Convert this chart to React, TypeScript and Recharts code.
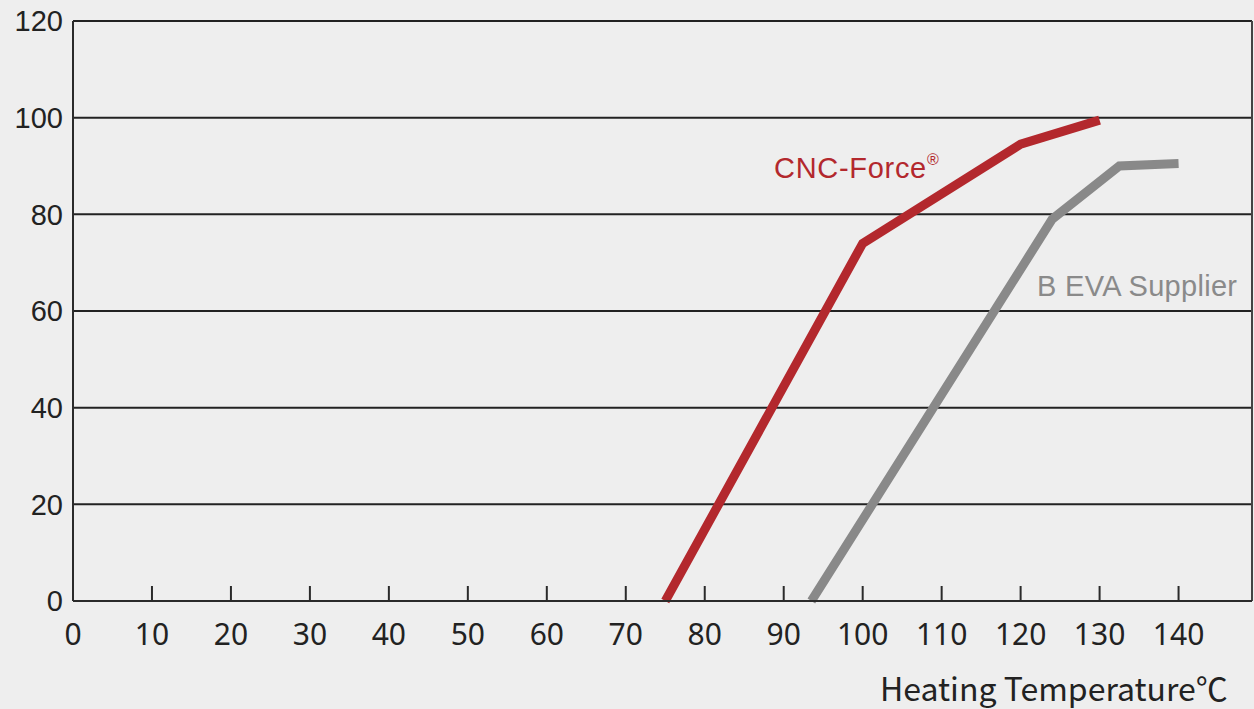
import React from "react";
import { LineChart, Line, XAxis, YAxis, CartesianGrid, ReferenceLine } from "recharts";

const xTicks = [0, 10, 20, 30, 40, 50, 60, 70, 80, 90, 100, 110, 120, 130, 140];
const yTicks = [0, 20, 40, 60, 80, 100, 120];
const cncForce = [
  { x: 75, y: 0 },
  { x: 100, y: 74 },
  { x: 120, y: 94.5 },
  { x: 130, y: 99.5 },
];
const bEva = [
  { x: 93.5, y: 0 },
  { x: 124, y: 79 },
  { x: 132.5, y: 90 },
  { x: 140, y: 90.5 },
];
const X_MAX = 149.3;
const W = 1254;
const H = 709;

const XTick = (props: any) => {
  const { x, y, payload } = props;
  return (
    <g>
      <line x1={x} y1={y} x2={x} y2={y - 15} stroke="#2a2a2a" strokeWidth={2} />
      <text
        x={x}
        y={y + 44}
        textAnchor="middle"
        fontFamily="'Noto Sans', sans-serif"
        fontSize={30}
        fill="#222"
      >
        {payload.value}
      </text>
    </g>
  );
};

export default function App() {
  return (
    <div style={{ position: "relative", width: W, height: H, background: "#eeeeee" }}>
      <style>{`body{margin:0;}`}</style>
      <LineChart width={W} height={H} margin={{ top: 21, right: 2, left: 0, bottom: 0 }}>
        <CartesianGrid vertical={false} stroke="#222" strokeWidth={2} />
        <XAxis
          dataKey="x"
          type="number"
          domain={[0, X_MAX]}
          ticks={xTicks}
          interval={0}
          height={108}
          tickSize={0}
          tickMargin={0}
          tickLine={false}
          axisLine={{ stroke: "#2a2a2a", strokeWidth: 2 }}
          tick={<XTick />}
          allowDataOverflow
        />
        <YAxis
          type="number"
          domain={[0, 120]}
          ticks={yTicks}
          interval={0}
          width={73}
          tickSize={0}
          tickMargin={10}
          tickLine={false}
          axisLine={{ stroke: "#2a2a2a", strokeWidth: 2 }}
          tick={{ fontFamily: "'Liberation Sans', Arial, sans-serif", fontSize: 29, fill: "#222" }}
        />
        <ReferenceLine x={X_MAX} stroke="#444" strokeWidth={2} ifOverflow="visible" />
        <Line
          data={cncForce}
          dataKey="y"
          type="linear"
          stroke="#b3282d"
          strokeWidth={9}
          dot={false}
          activeDot={false}
          isAnimationActive={false}
        />
        <Line
          data={bEva}
          dataKey="y"
          type="linear"
          stroke="#898989"
          strokeWidth={9}
          dot={false}
          activeDot={false}
          isAnimationActive={false}
        />
      </LineChart>
      <svg
        width={W}
        height={H}
        style={{ position: "absolute", left: 0, top: 0, pointerEvents: "none" }}
      >
        <text
          x={774}
          y={178}
          fontFamily="'Liberation Sans', Arial, sans-serif"
          fontSize={29}
          letterSpacing={0.7}
          fill="#b3282d"
        >
          CNC-Force
          <tspan fontSize={16} dy={-13}>®</tspan>
        </text>
        <text
          x={1037}
          y={296}
          fontFamily="'Liberation Sans', Arial, sans-serif"
          fontSize={29}
          letterSpacing={0.3}
          fill="#8a8a8a"
        >
          B EVA Supplier
        </text>
        <text x={880} y={701} fontFamily="'Noto Sans CJK SC', 'Noto Sans', sans-serif" fontSize={32} fill="#222">
          Heating Temperature℃
        </text>
      </svg>
    </div>
  );
}
